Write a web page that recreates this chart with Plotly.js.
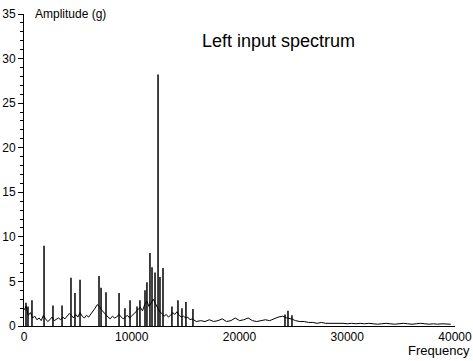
<!DOCTYPE html>
<html>
<head>
<meta charset="utf-8">
<script src="https://cdn.plot.ly/plotly-3.0.1.min.js"></script>
<style>html,body{margin:0;padding:0;background:#fff;}#chart{width:473px;height:361px;}</style>
</head>
<body>
<div id="chart"></div>
<script>
// Baseline spectrum, low band: 0..16000 Hz, step 200
const lowStart = 0, lowStep = 200;
const lowAmp = [1.8,2.2,1.2,1.5,0.9,1.1,0.7,0.9,0.6,1.2,0.8,0.5,0.7,1.0,0.6,0.8,0.9,0.7,1.0,0.8,
  1.1,1.4,1.2,0.9,1.3,1.0,1.5,1.1,0.9,1.2,1.0,1.3,1.6,2.0,2.4,2.2,1.8,1.5,1.2,1.0,
  0.8,1.1,0.9,1.0,1.3,1.1,0.8,1.0,1.2,0.9,1.1,1.4,1.6,1.9,2.1,1.7,2.4,2.8,2.2,2.6,
  3.0,2.5,2.0,1.6,1.4,1.1,1.3,1.0,1.2,1.5,1.3,1.6,1.2,1.0,1.1,0.9,1.0,0.7,0.8,0.6,0.5];
// Baseline spectrum, high band: 16400..39600 Hz, step 400
const highStart = 16400, highStep = 400;
const highAmp = [0.6,0.5,0.7,0.5,0.6,0.8,0.5,0.6,0.9,0.6,0.7,0.9,0.6,0.5,0.6,0.7,0.6,0.8,1.0,1.1,
  0.9,0.8,0.6,0.5,0.5,0.4,0.4,0.3,0.4,0.3,0.3,0.35,0.3,0.3,0.25,0.3,0.25,0.3,0.25,0.3,
  0.25,0.2,0.25,0.3,0.25,0.2,0.25,0.3,0.25,0.2,0.25,0.3,0.25,0.2,0.25,0.2,0.25,0.2,0.2];
// Discrete spectral peaks
const peakFreq = [186,370,740,1860,2690,3530,4360,4730,5200,6960,7150,7610,8820,9370,9840,10490,10760,
  11230,11410,11690,11880,12160,12440,12620,12900,13730,14290,14660,15030,15680,24220,24500,24870];
const peakAmp = [2.6,2.2,2.9,9.0,2.3,2.3,5.4,3.7,5.2,5.6,4.3,3.8,3.7,2.0,2.9,2.2,2.9,
  4.0,4.9,8.2,6.6,6.0,28.2,5.5,6.5,2.2,2.9,2.0,2.7,1.9,1.3,1.7,1.2];
const xTicks = [0,10000,20000,30000,40000];
const yTicks = [0,5,10,15,20,25,30,35];

const bx = [], by = [];
lowAmp.forEach((a,i)=>{bx.push(lowStart+i*lowStep); by.push(a);});
highAmp.forEach((a,i)=>{bx.push(highStart+i*highStep); by.push(a);});
const sx = [], sy = [];
peakFreq.forEach((f,i)=>{sx.push(f,f,null); sy.push(0,peakAmp[i],null);});

const fam = 'Liberation Sans, Arial, sans-serif';
const data = [
  {x:bx, y:by, type:'scatter', mode:'lines', line:{color:'#000', width:1}, hoverinfo:'skip'},
  {x:sx, y:sy, type:'scatter', mode:'lines', line:{color:'#000', width:1.5}, hoverinfo:'skip'}
];
const layout = {
  width:473, height:361, showlegend:false,
  paper_bgcolor:'#fff', plot_bgcolor:'#fff',
  margin:{l:24, r:18, t:14, b:35},
  font:{size:12, family:fam, color:'#000'},
  xaxis:{range:[0,40000], tickvals:xTicks, ticktext:xTicks.map(String), showgrid:false, zeroline:false,
    showline:true, linecolor:'#000', linewidth:1, ticks:'', tickfont:{size:12, family:fam, color:'#000'}},
  yaxis:{range:[0,35], tickvals:yTicks, ticktext:yTicks.map(String), showgrid:false, zeroline:false,
    showline:true, linecolor:'#000', linewidth:1, ticks:'outside', ticklen:5, tickcolor:'#000',
    minor:{dtick:1, ticks:'outside', ticklen:3, tickcolor:'#000'},
    tickfont:{size:12, family:fam, color:'#000'}},
  annotations:[
    {text:'Amplitude (g)', xref:'paper', yref:'paper', x:0.022, y:1.0, xanchor:'left', yanchor:'middle', showarrow:false, font:{size:12, family:fam, color:'#000'}},
    {text:'Frequency', xref:'paper', yref:'paper', x:1.04, y:-0.08, xanchor:'right', yanchor:'middle', showarrow:false, font:{size:13, family:fam, color:'#000'}},
    {text:'Left input spectrum', xref:'paper', yref:'paper', x:0.59, y:0.915, xanchor:'center', yanchor:'middle', showarrow:false, font:{size:18, family:fam, color:'#000'}}
  ]
};
Plotly.newPlot('chart', data, layout, {staticPlot:true, displayModeBar:false});
</script>
</body>
</html>
